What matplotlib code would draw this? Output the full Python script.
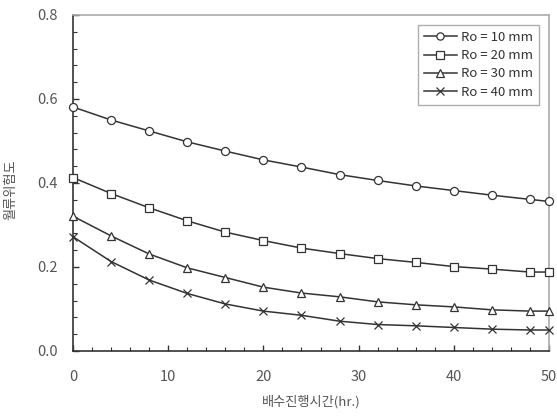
import matplotlib
matplotlib.use("Agg")
import matplotlib.pyplot as plt
from matplotlib.ticker import MultipleLocator

plt.rcParams['font.family'] = ['Noto Sans CJK KR', 'DejaVu Sans']

hours = [0, 4, 8, 12, 16, 20, 24, 28, 32, 36, 40, 44, 48, 50]

ro_10 = [0.581, 0.550, 0.524, 0.498, 0.476, 0.455, 0.438, 0.420, 0.406, 0.393, 0.382, 0.371, 0.361, 0.356]
ro_20 = [0.413, 0.375, 0.341, 0.310, 0.283, 0.263, 0.245, 0.232, 0.220, 0.211, 0.201, 0.195, 0.188, 0.188]
ro_30 = [0.321, 0.274, 0.231, 0.198, 0.175, 0.152, 0.138, 0.129, 0.117, 0.110, 0.105, 0.098, 0.095, 0.095]
ro_40 = [0.272, 0.213, 0.169, 0.137, 0.112, 0.095, 0.085, 0.071, 0.063, 0.060, 0.056, 0.052, 0.050, 0.050]

labels = ["Ro = 10 mm", "Ro = 20 mm", "Ro = 30 mm", "Ro = 40 mm"]
markers = ["o", "s", "^", "x"]

fig = plt.figure(figsize=(5.57, 4.17), dpi=100)
ax = fig.add_axes([73 / 557, 1 - 351 / 417, 476 / 557, 336 / 417])

for vals, lab, mk in zip([ro_10, ro_20, ro_30, ro_40], labels, markers):
    ax.plot(hours, vals, color="#333333", lw=1.1, marker=mk,
            markersize=5.8, markerfacecolor="white", markeredgecolor="#333333",
            markeredgewidth=0.9, label=lab, clip_on=False, zorder=3)

ax.set_xlim(0, 50)
ax.set_ylim(0, 0.8)
ax.xaxis.set_major_locator(MultipleLocator(10))
ax.xaxis.set_minor_locator(MultipleLocator(2))
ax.yaxis.set_minor_locator(MultipleLocator(0.04))
ax.set_yticks([0, 0.2, 0.4, 0.6, 0.8])
ax.set_yticklabels(["0.0", "0.2", "0.4", "0.6", "0.8"])

ax.tick_params(which="both", direction="in", color="#333333", labelcolor="#555555",
               labelsize=10.5, top=False, right=False)
ax.tick_params(which="major", length=4, width=1)
ax.tick_params(which="minor", length=3, width=0.8)
ax.tick_params(axis="x", pad=14)
ax.tick_params(axis="y", pad=11)

for side in ["left", "bottom"]:
    ax.spines[side].set_color("#333333")
    ax.spines[side].set_linewidth(1.2)
for side in ["top", "right"]:
    ax.spines[side].set_color("#aaaaaa")
    ax.spines[side].set_linewidth(1.2)

ax.set_xlabel("배수진행시간(hr.)", color="#555555", fontsize=9.5, labelpad=8)
ax.set_ylabel("월류위험도", color="#555555", fontsize=9.5)
ax.yaxis.set_label_coords(-56 / 476, 0.48)

leg = ax.legend(loc="upper right", bbox_to_anchor=(0.992, 0.99), frameon=True,
                fancybox=False, edgecolor="#999999", fontsize=9.5,
                handlelength=2.5, handletextpad=0.3, labelspacing=0.4,
                borderpad=0.45, markerscale=0.9)
leg.get_frame().set_linewidth(1.0)
for t in leg.get_texts():
    t.set_color("#333333")

fig.savefig("out.png", dpi=100)
